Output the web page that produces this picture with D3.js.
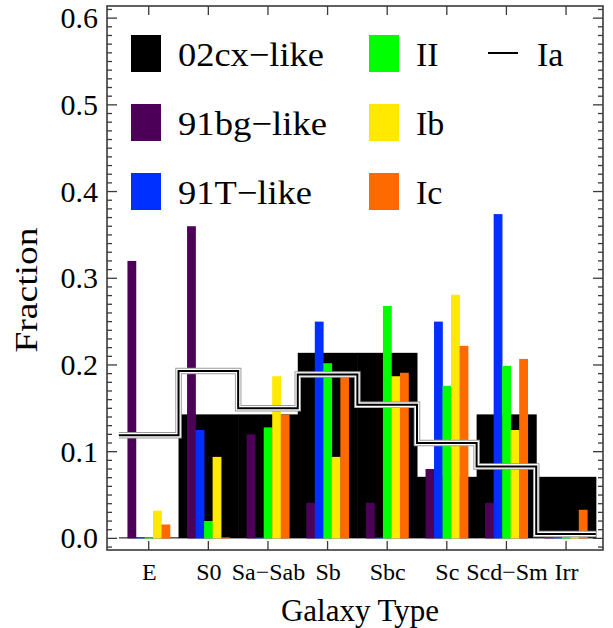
<!DOCTYPE html>
<html><head><meta charset="utf-8">
<script src="https://cdn.jsdelivr.net/npm/d3@7"></script>
<style>body{margin:0;background:#fff}svg{display:block}text{fill:#000}</style>
</head><body><svg id="c" width="613" height="628"></svg>
<script>
const categories = ["E","S0","Sa\u2212Sab","Sb","Sbc","Sc","Scd\u2212Sm","Irr"];
const cx02 = [0, 0.143, 0.143, 0.214, 0.214, 0.071, 0.143, 0.071];
const bg91 = [0.32, 0.36, 0.12, 0.041, 0.041, 0.08, 0.041, 0.002];
const t91  = [0, 0.125, 0, 0.25, 0, 0.25, 0.374, 0.002];
const typeII = [0, 0.02, 0.128, 0.202, 0.268, 0.176, 0.199, 0.008];
const typeIb = [0.032, 0.094, 0.187, 0.094, 0.187, 0.281, 0.125, 0.002];
const typeIc = [0.016, 0, 0.143, 0.187, 0.191, 0.222, 0.207, 0.033];
const typeIa = [0.119, 0.193, 0.150, 0.189, 0.154, 0.110, 0.083, 0.005];
const yTicks = [0.0, 0.1, 0.2, 0.3, 0.4, 0.5, 0.6];
const seriesNames = ["91bg\u2212like","91T\u2212like","II","Ib","Ic"];
const seriesColors = ["#4d0057","#0030ff","#00ff00","#ffe900","#ff6a00"];
const series = [bg91, t91, typeII, typeIb, typeIc];

const FONT = '"Liberation Serif","Times New Roman",Times,Tinos,"Nimbus Roman","Nimbus Roman No9 L","Noto Serif","DejaVu Serif",FreeSerif,serif';
const svg = d3.select("#c");
const L=107, R=603, T=6, B=550;
const x = d3.scaleLinear().domain([-0.7, 7.62]).range([L, R]);
const y = d3.scaleLinear().domain([-0.0134, 0.614]).range([B, T]);
const unit = x(1)-x(0);

// 02cx-like histogram
svg.append("g").selectAll("rect").data(cx02).join("rect")
  .attr("x",(d,i)=>x(i-0.5)).attr("width",(d,i)=>x(i+0.5)-x(i-0.5)+0.5)
  .attr("y",d=>Math.min(y(d), y(0)-1)).attr("height",d=>Math.max(1,y(0)-y(d)))
  .attr("fill","#000");

// coloured bars
series.forEach((vals,s)=>{
  svg.append("g").selectAll("rect").data(vals).join("rect")
    .attr("x",(d,i)=>x(i+(s-2.5)/7)).attr("width",unit/7+0.3)
    .attr("y",d=>Math.min(y(d), y(0)-1)).attr("height",d=>Math.max(1,y(0)-y(d)))
    .attr("fill",seriesColors[s]);
});

// Ia step line
const pts = typeIa.map((v,i)=>[i-0.5, v]).concat([[7.5, typeIa[typeIa.length-1]]]);
const line = d3.line().x(d=>x(d[0])).y(d=>y(d[1])).curve(d3.curveStepAfter);
svg.append("path").attr("d",line(pts)).attr("fill","none").attr("stroke","#9a9a9a").attr("stroke-width",6.5);
svg.append("path").attr("d",line(pts)).attr("fill","none").attr("stroke","#fff").attr("stroke-width",4.6);
svg.append("path").attr("d",line(pts)).attr("fill","none").attr("stroke","#000").attr("stroke-width",2);

// frame
svg.append("rect").attr("x",L).attr("y",T).attr("width",R-L).attr("height",B-T)
  .attr("fill","none").attr("stroke","#3a3a3a").attr("stroke-width",1.6);

// ticks
const minor = d3.range(-1, 62).map(k=>k/100);
const tg = svg.append("g").attr("stroke","#3a3a3a").attr("stroke-width",1.3);
minor.forEach(v=>{
  const major = Math.abs(v*10-Math.round(v*10))<1e-6;
  const len = major?10:5;
  tg.append("line").attr("x1",L).attr("x2",L+len).attr("y1",y(v)).attr("y2",y(v));
  tg.append("line").attr("x1",R).attr("x2",R-len).attr("y1",y(v)).attr("y2",y(v));
});
categories.forEach((c,i)=>{
  tg.append("line").attr("x1",x(i)).attr("x2",x(i)).attr("y1",B).attr("y2",B-9);
  tg.append("line").attr("x1",x(i)).attr("x2",x(i)).attr("y1",T).attr("y2",T+9);
});
// tick labels via axis generators (labels only)
const yAxis = d3.axisLeft(y).tickValues(yTicks).tickFormat(d3.format(".1f")).tickSize(0).tickPadding(9);
const ya = svg.append("g").attr("transform",`translate(${L},0)`).call(yAxis);
ya.attr("font-family",FONT).attr("font-size",30);
ya.select(".domain").remove();
ya.selectAll("text").style("font-family",FONT).style("font-size","30px").attr("fill","#000");

const xAxis = d3.axisBottom(x).tickValues(d3.range(categories.length)).tickFormat(i=>categories[i]).tickSize(0).tickPadding(13);
const xa = svg.append("g").attr("transform",`translate(0,${B})`).call(xAxis);
xa.attr("font-family",FONT).attr("font-size",24);
xa.select(".domain").remove();
xa.selectAll("text").style("font-family",FONT).style("font-size","24px").attr("fill","#000");

// axis titles
svg.append("text").attr("x",(L+R)/2+5).attr("y",621).attr("text-anchor","middle")
  .style("font-family",FONT).style("font-size","31px").text("Galaxy Type");
svg.append("text").attr("transform","translate(37,290) rotate(-90)").attr("text-anchor","middle")
  .style("font-family",FONT).style("font-size","31px").attr("textLength",125).attr("lengthAdjust","spacingAndGlyphs").text("Fraction");

// legend
const legend = [
  {name:"02cx\u2212like", color:"#000", col:0, row:0, w:146},
  {name:seriesNames[0], color:seriesColors[0], col:0, row:1, w:149},
  {name:seriesNames[1], color:seriesColors[1], col:0, row:2, w:134},
  {name:seriesNames[2], color:seriesColors[2], col:1, row:0},
  {name:seriesNames[3], color:seriesColors[3], col:1, row:1},
  {name:seriesNames[4], color:seriesColors[4], col:1, row:2}
];
const colX=[131,369], rowY=[35,104,173];
legend.forEach(d=>{
  svg.append("rect").attr("x",colX[d.col]).attr("y",rowY[d.row]).attr("width",30).attr("height",37).attr("fill",d.color);
  const t = svg.append("text").attr("x",colX[d.col]+47).attr("y",rowY[d.row]+31)
    .style("font-family",FONT).style("font-size","34px").text(d.name);
  if(d.w) t.attr("textLength",d.w).attr("lengthAdjust","spacingAndGlyphs");
});
svg.append("line").attr("x1",488).attr("x2",518).attr("y1",53).attr("y2",53).attr("stroke","#000").attr("stroke-width",2);
svg.append("text").attr("x",537).attr("y",66).style("font-family",FONT).style("font-size","34px").text("Ia");
</script></body></html>
